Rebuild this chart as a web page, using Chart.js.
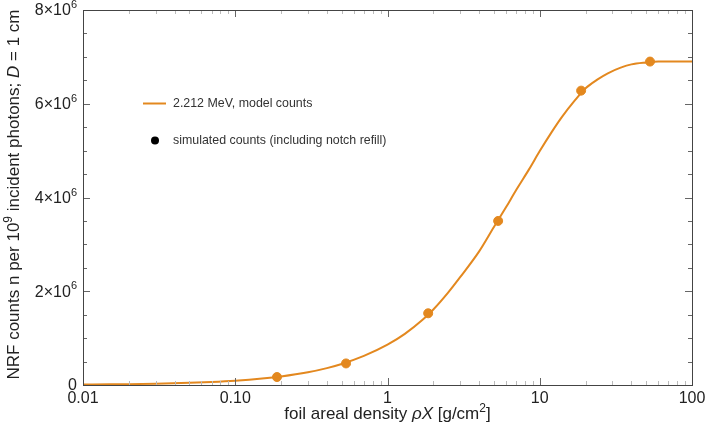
<!DOCTYPE html>
<html>
<head>
<meta charset="utf-8">
<script src="https://cdn.jsdelivr.net/npm/chart.js@4.4.1/dist/chart.umd.min.js"></script>
<style>
	html, body { margin: 0; padding: 0; background: #fff; }
	#chart { display: block; }
</style>
</head>
<body>
<canvas id="chart" width="706" height="439"></canvas>
<script>
// model curve, foil areal density [g/cm2] vs counts in units of 10^6
const modelX = [0.01, 0.015, 0.02, 0.03, 0.05, 0.07, 0.1, 0.15, 0.2, 0.3, 0.4, 0.5, 0.7, 1, 1.3, 1.7, 2, 2.5, 3, 4, 5, 6, 7, 8.5, 10, 12, 14, 17, 20, 24, 28, 34, 40, 50, 60, 80, 100]
const modelY = [0.009, 0.014, 0.018, 0.027, 0.046, 0.064, 0.091, 0.137, 0.182, 0.271, 0.36, 0.448, 0.62, 0.86, 1.09, 1.39, 1.61, 1.97, 2.3, 2.85, 3.37, 3.79, 4.16, 4.6, 4.99, 5.4, 5.72, 6.07, 6.33, 6.52, 6.65, 6.77, 6.84, 6.88, 6.9, 6.9, 6.9]

// simulated points
const simX = [0.188, 0.534, 1.85, 5.33, 18.7, 53]
const simY = [0.17, 0.46, 1.53, 3.5, 6.28, 6.9]

const xTickValues = [0.01, 0.1, 1, 10, 100]
const xTickLabels = ['0.01', '0.10', '1', '10', '100']
const yTickValues = [0, 2, 4, 6, 8]
const yTickLabels = ['0', '2×10', '4×10', '6×10', '8×10']
const yTickExponents = ['', '6', '6', '6', '6']
const seriesLabels = ['2.212 MeV, model counts', 'simulated counts (including notch refill)']

const orange = '#E3881F'
const frameColor = '#444'
const font = "'Liberation Sans', Arial, sans-serif"

const framePlugin = {
	id: 'frame',
	afterDraw(chart) {
		const { ctx, chartArea: a } = chart
		const xs = chart.scales.x
		const ys = chart.scales.y
		ctx.save()
		ctx.lineWidth = 1
		// minor ticks on x (2..9 per decade)
		ctx.strokeStyle = '#bbb'
		for (let d = 0.01; d < 100; d *= 10) {
			for (let m = 2; m <= 9; m++) {
				const px = Math.round(xs.getPixelForValue(d * m)) + 0.5
				ctx.beginPath()
				ctx.moveTo(px, a.bottom); ctx.lineTo(px, a.bottom - 4)
				ctx.moveTo(px, a.top); ctx.lineTo(px, a.top + 4)
				ctx.stroke()
			}
		}
		ctx.strokeStyle = '#666'
		xTickValues.forEach((v) => {
			const px = Math.round(xs.getPixelForValue(v)) + 0.5
			ctx.beginPath()
			ctx.moveTo(px, a.bottom); ctx.lineTo(px, a.bottom - 7)
			ctx.moveTo(px, a.top); ctx.lineTo(px, a.top + 7)
			ctx.stroke()
		})
		// y ticks every 0.5
		for (let v = 0; v <= 8; v += 0.5) {
			const py = Math.round(ys.getPixelForValue(v)) + 0.5
			const len = v % 2 === 0 ? 7 : 4
			ctx.beginPath()
			ctx.moveTo(a.left, py); ctx.lineTo(a.left + len, py)
			ctx.moveTo(a.right, py); ctx.lineTo(a.right - len, py)
			ctx.stroke()
		}
		ctx.strokeStyle = frameColor
		ctx.strokeRect(Math.round(a.left) + 0.5, Math.round(a.top) + 0.5, Math.round(a.right - a.left), Math.round(a.bottom - a.top))

		// y tick labels with superscript exponent
		ctx.fillStyle = '#222'
		ctx.textBaseline = 'middle'
		ctx.textAlign = 'left'
		yTickValues.forEach((v, i) => {
			const py = ys.getPixelForValue(v)
			ctx.font = `11px ${font}`
			const ew = yTickExponents[i] ? ctx.measureText(yTickExponents[i]).width : 0
			ctx.font = `16px ${font}`
			const bw = ctx.measureText(yTickLabels[i]).width
			const right = a.left - 6
			ctx.fillText(yTickLabels[i], right - ew - bw, py + 1)
			if (ew) {
				ctx.font = `11px ${font}`
				ctx.fillText(yTickExponents[i], right - ew, py - 5)
			}
		})

		// legend
		ctx.font = `12.4px ${font}`
		ctx.fillStyle = '#333'
		ctx.textBaseline = 'middle'
		ctx.strokeStyle = orange
		ctx.lineWidth = 2
		ctx.beginPath()
		ctx.moveTo(143, 103.5); ctx.lineTo(166, 103.5)
		ctx.stroke()
		ctx.fillText(seriesLabels[0], 173, 104)
		ctx.fillStyle = '#000'
		ctx.beginPath()
		ctx.arc(155, 140.5, 4, 0, Math.PI * 2)
		ctx.fill()
		ctx.fillStyle = '#333'
		ctx.fillText(seriesLabels[1], 173, 141)

		// axis titles with italic parts
		const drawParts = (parts, cx, cy, rot) => {
			ctx.save()
			ctx.translate(cx, cy)
			ctx.rotate(rot)
			ctx.fillStyle = '#222'
			ctx.textBaseline = 'alphabetic'
			const fontFor = (p) => p.sup ? `12px ${font}` : `${p.it ? 'italic ' : ''}17px ${font}`
			let total = 0
			parts.forEach((p) => { ctx.font = fontFor(p); total += ctx.measureText(p.t).width })
			let x = -total / 2
			parts.forEach((p) => {
				ctx.font = fontFor(p)
				ctx.fillText(p.t, x, p.sup ? -2 : 5)
				x += ctx.measureText(p.t).width
			})
			ctx.restore()
		}
		drawParts([
			{ t: 'foil areal density ' }, { t: 'ρX', it: true }, { t: ' [g/cm' }, { t: '2', sup: true }, { t: ']' },
		], (a.left + a.right) / 2, 414, 0)
		drawParts([
			{ t: 'NRF counts n per 10' }, { t: '9', sup: true }, { t: ' incident photons; ' }, { t: 'D', it: true }, { t: ' = 1 cm' },
		], 14, (a.top + a.bottom) / 2 - 3, -Math.PI / 2)
		ctx.restore()
	},
}

new Chart(document.getElementById('chart'), {
	type: 'line',
	data: {
		datasets: [
			{
				label: seriesLabels[0],
				data: modelX.map((x, i) => ({ x, y: modelY[i] })),
				borderColor: orange,
				borderWidth: 2,
				pointRadius: 0,
				cubicInterpolationMode: 'monotone',
				fill: false,
			},
			{
				type: 'scatter',
				label: seriesLabels[1],
				data: simX.map((x, i) => ({ x, y: simY[i] })),
				backgroundColor: orange,
				borderColor: orange,
				pointRadius: 4.5,
				showLine: false,
			},
		],
	},
	plugins: [framePlugin],
	options: {
		responsive: false,
		animation: false,
		devicePixelRatio: 1,
		layout: { padding: { left: 0, right: 14, top: 10, bottom: 0 } },
		plugins: {
			legend: { display: false },
			tooltip: { enabled: false },
		},
		scales: {
			x: {
				type: 'logarithmic',
				min: 0.01,
				max: 100,
				grid: { display: false },
				border: { display: false },
				afterBuildTicks: (scale) => {
					scale.ticks = xTickValues.map((value) => ({ value }))
				},
				afterFit: (scale) => { scale.height = 54 },
				ticks: {
					autoSkip: false,
					maxRotation: 0,
					padding: -4,
					color: '#222',
					font: { family: font, size: 16 },
					callback: (v, i) => xTickLabels[i],
				},
			},
			y: {
				min: 0,
				max: 8,
				grid: { display: false },
				border: { display: false },
				afterBuildTicks: (scale) => {
					scale.ticks = yTickValues.map((value) => ({ value }))
				},
				afterFit: (scale) => { scale.width = 83 },
				ticks: { display: false },
			},
		},
	},
})
</script>
</body>
</html>
